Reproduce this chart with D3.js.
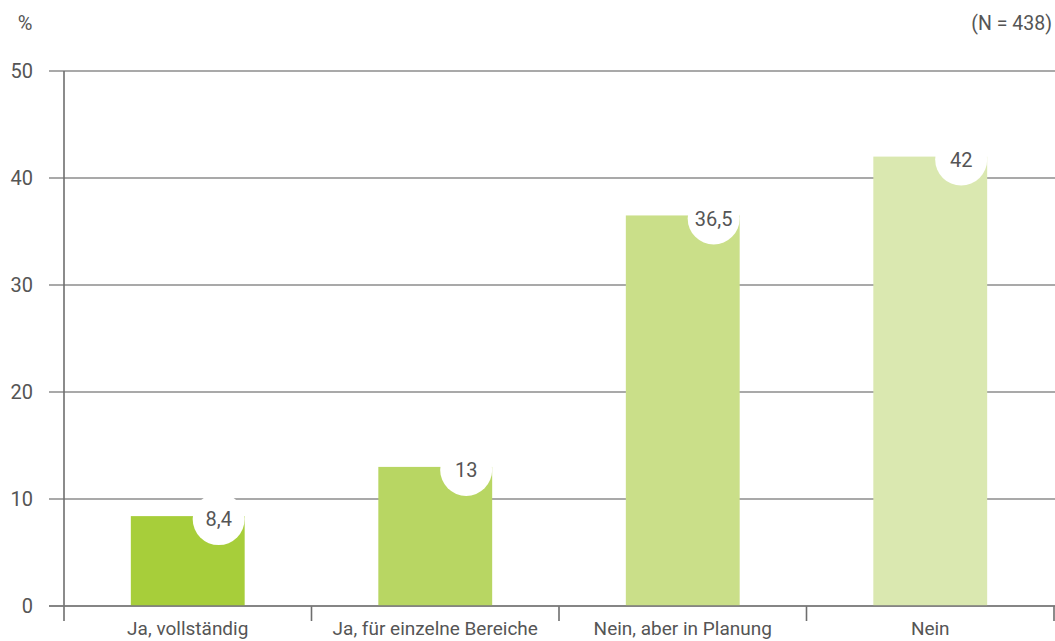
<!DOCTYPE html>
<html>
<head>
<meta charset="utf-8">
<script src="https://cdn.jsdelivr.net/npm/d3@7"></script>
<style>
  html, body { margin: 0; padding: 0; background: #fff; }
  svg { display: block; font-family: Roboto, "Noto Sans", sans-serif; }
</style>
</head>
<body>
<svg id="chart" width="1055" height="641"></svg>
<script>
const categories = ["Ja, vollständig", "Ja, für einzelne Bereiche", "Nein, aber in Planung", "Nein"];
const values = [8.4, 13, 36.5, 42];
const valueLabels = ["8,4", "13", "36,5", "42"];
const barColors = ["#a7ce3a", "#b8d663", "#cadf89", "#dae8b0"];
const yTicks = [0, 10, 20, 30, 40, 50];
const unitLabel = "%";
const sampleLabel = "(N = 438)";

const svg = d3.select("#chart");
const m = { left: 64, right: 1054, top: 71, bottom: 606 };

const x = d3.scaleBand().domain(categories).range([m.left, m.right]).padding(0);
const y = d3.scaleLinear().domain([0, 50]).range([m.bottom, m.top]);
const barFrac = 0.46;
const textColor = "#555555";
const gridColor = "#8c8c8c";

// gridlines
svg.append("g").selectAll("line").data(yTicks).join("line")
  .attr("x1", m.left - 15).attr("x2", 1055)
  .attr("y1", d => y(d)).attr("y2", d => y(d))
  .attr("stroke", gridColor).attr("stroke-width", 1.6);

// y tick labels
svg.append("g").selectAll("text").data(yTicks).join("text")
  .attr("x", 33).attr("y", d => y(d)).attr("dy", "0.36em")
  .attr("text-anchor", "end")
  .attr("font-size", 20).attr("fill", textColor)
  .text(d => d);

// y axis line
svg.append("line")
  .attr("x1", m.left).attr("x2", m.left)
  .attr("y1", y(50)).attr("y2", m.bottom + 15)
  .attr("stroke", "#6e6e6e").attr("stroke-width", 1.6);

// category boundary ticks
const bounds = categories.map(c => x(c) + x.bandwidth());
svg.append("g").selectAll("line").data(bounds).join("line")
  .attr("x1", d => d).attr("x2", d => d)
  .attr("y1", m.bottom).attr("y2", m.bottom + 15)
  .attr("stroke", "#6e6e6e").attr("stroke-width", 1.6);

// bars
const bw = x.bandwidth() * barFrac;
const bx = c => x(c) + (x.bandwidth() - bw) / 2;
svg.append("g").selectAll("rect").data(categories).join("rect")
  .attr("x", c => bx(c))
  .attr("y", (c, i) => y(values[i]))
  .attr("width", bw)
  .attr("height", (c, i) => y(0) - y(values[i]))
  .attr("fill", (c, i) => barColors[i]);

// baseline
svg.append("line")
  .attr("x1", m.left - 15).attr("x2", 1055)
  .attr("y1", y(0)).attr("y2", y(0))
  .attr("stroke", "#7a7a7a").attr("stroke-width", 1.6);

// value label circles
const r = 26;
const lg = svg.append("g").selectAll("g").data(categories).join("g")
  .attr("transform", (c, i) => `translate(${bx(c) + bw - r},${y(values[i]) + 3})`);
lg.append("circle").attr("r", r).attr("fill", "#fff");
lg.append("text")
  .attr("text-anchor", "middle").attr("dy", "0.36em")
  .attr("font-size", 20).attr("fill", textColor)
  .text((c, i) => valueLabels[i]);

// category labels
svg.append("g").selectAll("text").data(categories).join("text")
  .attr("x", c => x(c) + x.bandwidth() / 2)
  .attr("y", 635)
  .attr("text-anchor", "middle")
  .attr("font-size", 19).attr("fill", textColor)
  .text(c => c);

// unit & N
svg.append("text").attr("x", 25).attr("y", 30).attr("text-anchor", "middle")
  .attr("font-size", 20).attr("fill", textColor).text(unitLabel);
svg.append("text").attr("x", 1052).attr("y", 30).attr("text-anchor", "end")
  .attr("font-size", 19.5).attr("fill", textColor).text(sampleLabel);
</script>
</body>
</html>
